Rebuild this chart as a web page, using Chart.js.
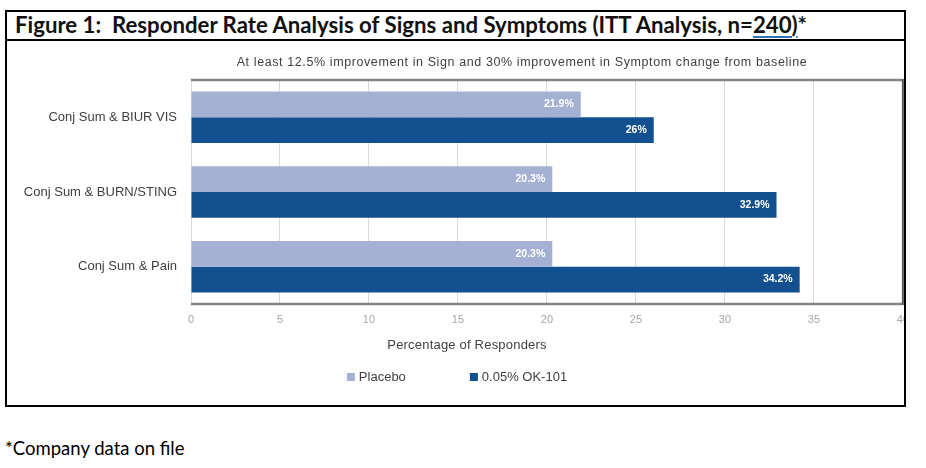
<!DOCTYPE html>
<html>
<head>
<meta charset="utf-8">
<script src="https://cdn.jsdelivr.net/npm/chart.js@4"></script>
<style>
  body { margin: 0; width: 926px; height: 468px; background: #fff; position: relative; overflow: hidden; }
  .frame { position: absolute; left: 5px; top: 10px; width: 901px; height: 397px; border: 2px solid #000; box-sizing: border-box; z-index: 5; pointer-events: none; }
  .divider { position: absolute; left: 5px; top: 39px; width: 901px; height: 2px; background: #000; z-index: 5; }
  .title { position: absolute; left: 15px; top: 11px; font: bold 22.2px Lato, sans-serif; color: #111; white-space: pre; }
  .title u { text-decoration: underline 2px #2e74b5; text-underline-offset: 3px; }
  .wrap { position: absolute; left: 7px; top: 41px; width: 897px; height: 364px; overflow: hidden; }
  .sub { position: absolute; left: 522px; top: 55px; transform: translateX(-50%); font: 12.5px "Liberation Sans", Arial, sans-serif; color: #404040; white-space: nowrap; letter-spacing: 0.6px; }
  .xtitle { position: absolute; left: 467px; top: 337px; transform: translateX(-50%); font: 13px "Liberation Sans", Arial, sans-serif; color: #404040; white-space: nowrap; letter-spacing: 0.2px; }
  .legend { position: absolute; left: 457px; top: 369px; transform: translateX(-50%); font: 13px "Liberation Sans", Arial, sans-serif; color: #404040; white-space: nowrap; display: flex; gap: 64px; }
  .legend span.box { display: inline-block; width: 8px; height: 8px; margin-right: 4px; }
  .foot { position: absolute; left: 5px; top: 437px; font: 18.5px Lato, sans-serif; color: #000; }
</style>
</head>
<body>
<div class="frame"></div>
<div class="divider"></div>
<div class="title">Figure 1:  Responder Rate Analysis of Signs and Symptoms (ITT Analysis, n=<u>240)</u>*</div>
<div class="wrap"><canvas id="chart" width="911" height="364"></canvas></div>
<div class="sub">At least 12.5% improvement in Sign and 30% improvement in Symptom change from baseline</div>
<div class="xtitle">Percentage of Responders</div>
<div class="legend" id="legend"></div>
<div class="foot">*Company data on file</div>
<script>
const categories = ['Conj Sum & BIUR VIS', 'Conj Sum & BURN/STING', 'Conj Sum & Pain'];
const placebo = [21.9, 20.3, 20.3];
const ok101 = [26, 32.9, 34.2];
const seriesNames = ['Placebo', '0.05% OK-101'];
const seriesColors = ['#a4b1d2', '#12508f'];
const xTicks = [0, 5, 10, 15, 20, 25, 30, 35, 40];

const ctx = document.getElementById('chart');

const barLabels = {
  id: 'barLabels',
  afterDatasetsDraw(chart) {
    const c = chart.ctx;
    c.save();
    c.fillStyle = '#fff';
    c.font = 'bold 10.5px "Liberation Sans", Arial, sans-serif';
    c.textAlign = 'right';
    c.textBaseline = 'middle';
    chart.data.datasets.forEach((ds, i) => {
      chart.getDatasetMeta(i).data.forEach((bar, j) => {
        c.fillText(ds.data[j] + '%', bar.x - 7, bar.y);
      });
    });
    c.restore();
  }
};

const plotBorder = {
  id: 'plotBorder',
  afterDraw(chart) {
    const a = chart.chartArea;
    const c = chart.ctx;
    c.save();
    c.strokeStyle = '#858585';
    c.lineWidth = 2.5;
    c.beginPath();
    c.moveTo(a.left, a.top);
    c.lineTo(a.right, a.top);
    c.moveTo(a.left, a.bottom);
    c.lineTo(a.right, a.bottom);
    c.stroke();
    c.strokeStyle = '#5a5a5a';
    c.lineWidth = 2;
    c.beginPath();
    c.moveTo(a.right, a.top - 1);
    c.lineTo(a.right, a.bottom + 1);
    c.stroke();
    c.restore();
  }
};

const chart = new Chart(ctx, {
  type: 'bar',
  data: {
    labels: categories,
    datasets: [
      { label: seriesNames[0], data: placebo, backgroundColor: seriesColors[0] },
      { label: seriesNames[1], data: ok101, backgroundColor: seriesColors[1] }
    ]
  },
  options: {
    indexAxis: 'y',
    responsive: false,
    animation: false,
    layout: { padding: { top: 39, right: 0, bottom: 0, left: 0 } },
    datasets: { bar: { categoryPercentage: 0.69, barPercentage: 1 } },
    scales: {
      x: {
        min: 0,
        max: 40,
        afterBuildTicks(scale) { scale.ticks = xTicks.map(v => ({ value: v })); },
        afterFit(scale) { scale.height = 101; },
        ticks: { color: '#a6a6a6', padding: 9, font: { size: 11, family: '"Liberation Sans", Arial, sans-serif' } },
        grid: { color: '#d9d9d9', drawTicks: false },
        border: { display: false }
      },
      y: {
        afterFit(scale) { scale.width = 184; },
        ticks: { color: '#404040', padding: 14, font: { size: 13, family: '"Liberation Sans", Arial, sans-serif' } },
        grid: { display: false, drawTicks: false },
        border: { display: false }
      }
    },
    plugins: {
      legend: { display: false },
      tooltip: { enabled: false }
    }
  },
  plugins: [barLabels, plotBorder]
});

const legend = document.getElementById('legend');
chart.data.datasets.forEach(ds => {
  const item = document.createElement('div');
  item.innerHTML = '<span class="box" style="background:' + ds.backgroundColor + '"></span>' + ds.label;
  legend.appendChild(item);
});
</script>
</body>
</html>
